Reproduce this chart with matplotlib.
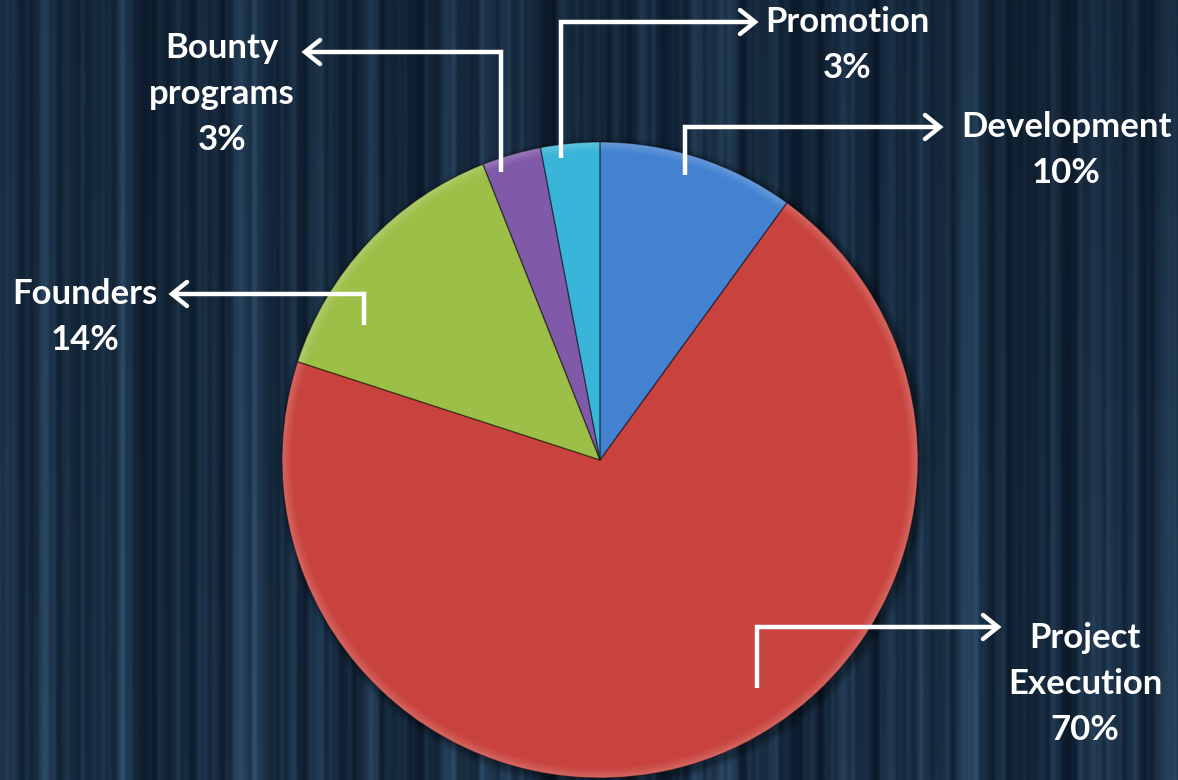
import numpy as np
import matplotlib
matplotlib.use("Agg")
import matplotlib.pyplot as plt
from matplotlib.colors import to_rgb

# ---- data ----
categories = ["Development", "Project\nExecution", "Founders", "Bounty\nprograms", "Promotion"]
values = [10, 70, 14, 3, 3]
colors = ["#4382D0", "#C9433E", "#9CBF48", "#8059A8", "#38B5D8"]

W, H, DPI = 1178, 780, 100
fig = plt.figure(figsize=(W / DPI, H / DPI), dpi=DPI)

# ---- background: dark curtain-like vertical stripes ----
bg = fig.add_axes([0, 0, 1, 1], zorder=0)
xs = np.linspace(0, 1, W)
freqs = [5.3, 9.7, 17.9, 29.3, 43.1, 61.7, 88.3, 123.9, 171.1]
amps = [0.35, 0.30, 0.45, 0.40, 0.35, 0.30, 0.25, 0.20, 0.15]
phases = [0.3, 1.7, 2.9, 0.8, 4.1, 5.2, 1.1, 3.3, 2.2]
stripe = sum(a * np.sin(2 * np.pi * f * xs + p) for f, a, p in zip(freqs, amps, phases))
stripe = (stripe - stripe.min()) / (stripe.max() - stripe.min())
stripe = stripe ** 1.4
ys = np.linspace(0, 1, H)[:, None]
vert = 0.75 + 0.25 * ys
xx = np.linspace(0, 1, W)[None, :]
vign = 1.0 - 0.25 * np.clip((xx - 0.7) / 0.3, 0, 1) * np.clip(1 - ys * 1.5, 0, 1)
dark = np.array(to_rgb("#0a1726"))
light = np.array(to_rgb("#30506e"))
t = (stripe[None, :] * vert * vign)[:, :, None]
img = dark[None, None, :] + (light - dark)[None, None, :] * t
bg.imshow(img, aspect="auto", extent=[0, W, H, 0], interpolation="bilinear")
bg.set_xlim(0, W)
bg.set_ylim(H, 0)
bg.axis("off")

# ---- pie ----
cx, cy, R = 600, 460, 318
pad = 12
pax = fig.add_axes([(cx - R - pad) / W, (H - cy - R - pad) / H,
                    2 * (R + pad) / W, 2 * (R + pad) / H], zorder=1)
pax.patch.set_alpha(0)
lim = (R + pad) / R


def lighten(c, f):
    r = np.array(to_rgb(c))
    return tuple(r + (1 - r) * f)


# soft shadow around the pie
for k, a in enumerate([0.05, 0.07, 0.09, 0.12]):
    pax.add_patch(plt.Circle((0.01, -0.01), 1.025 - k * 0.006, color="black", alpha=a, lw=0))

# lighter bevel rim fading into the main colour
rim = [(1.0, 0.18), (0.994, 0.14), (0.988, 0.10), (0.982, 0.06), (0.976, 0.03)]
for r, f in rim:
    pax.pie(values, colors=[lighten(c, f) for c in colors], startangle=90, counterclock=False,
            radius=r, wedgeprops=dict(linewidth=0))
pax.pie(values, colors=colors, startangle=90, counterclock=False,
        radius=0.97, wedgeprops=dict(linewidth=0))
# thin dark outline on slice borders
pax.pie(values, colors=["none"] * len(values), startangle=90, counterclock=False,
        radius=1.0, wedgeprops=dict(linewidth=0.9, edgecolor=(0, 0, 0, 0.4), fill=False))
pax.set_xlim(-lim, lim)
pax.set_ylim(-lim, lim)
pax.set_aspect("equal")
pax.axis("off")

# ---- labels with elbow arrows (in pixel coords) ----
ov = fig.add_axes([0, 0, 1, 1], zorder=2)
ov.patch.set_alpha(0)
ov.set_xlim(0, W)
ov.set_ylim(H, 0)
ov.axis("off")

# (start x, start y, elbow y, arrow tip x, text x, text y of first line)
layout = {
    "Development": (685, 175, 127, 940, 1066, 127),
    "Project\nExecution": (757, 688, 627, 998, 1085, 638),
    "Founders": (364, 325, 294, 172, 85, 294),
    "Bounty\nprograms": (501, 172, 52, 305, 222, 48),
    "Promotion": (561, 158, 22, 755, 847, 22),
}

font = dict(family=["Lato", "DejaVu Sans"], fontweight="bold", fontsize=25, color="white")
LINE = 46
for cat, v in zip(categories, values):
    sx, sy, ey, tx, txx, tyy = layout[cat]
    ov.plot([sx, sx, tx], [sy, ey, ey], color="white", lw=3.2,
            solid_joinstyle="miter", solid_capstyle="butt")
    d = 1 if tx > sx else -1
    ov.plot([tx - d * 15, tx, tx - d * 15], [ey - 12, ey, ey + 12], color="white", lw=3.2,
            solid_joinstyle="miter", solid_capstyle="round")
    lines = cat.split("\n") + [f"{v}%"]
    for i, ln in enumerate(lines):
        ov.text(txx, tyy + i * LINE, ln, ha="center", va="center", **font)

fig.savefig("out.png", dpi=DPI)
